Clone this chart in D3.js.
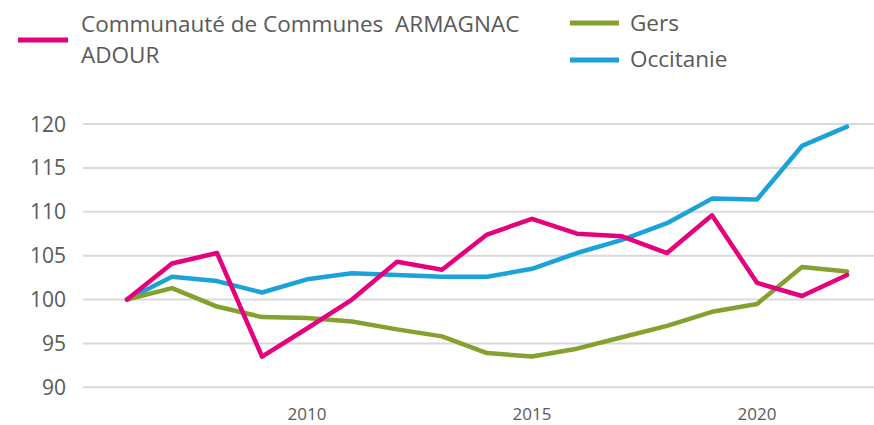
<html>
<head>
<meta charset="utf-8">
<title>Indice d'évolution</title>
<script src="https://d3js.org/d3.v7.min.js"></script>
<style>
body { margin: 0; background: #fff; }
svg { display: block; font-family: 'Open Sans', sans-serif; }
</style>
</head>
<body>
<div id="chart"></div>
<script>
// data (base 100 in 2006)
var years = [2006, 2007, 2008, 2009, 2010, 2011, 2012, 2013, 2014, 2015, 2016, 2017, 2018, 2019, 2020, 2021, 2022];
var ccaa = [100, 104.1, 105.3, 93.5, 96.7, 100.0, 104.3, 103.4, 107.4, 109.2, 107.5, 107.2, 105.3, 109.6, 101.9, 100.4, 102.8];
var gers = [100, 101.3, 99.2, 98.0, 97.9, 97.5, 96.6, 95.8, 93.9, 93.5, 94.4, 95.7, 97.0, 98.6, 99.5, 103.7, 103.2];
var occitanie = [100, 102.6, 102.1, 100.8, 102.3, 103.0, 102.8, 102.6, 102.6, 103.5, 105.3, 106.8, 108.7, 111.5, 111.4, 117.5, 119.7];
var yTicks = [90, 95, 100, 105, 110, 115, 120];
var xTicks = [2010, 2015, 2020];

var series = [
  { name: "Communauté de Communes  ARMAGNAC", name2: "ADOUR", values: ccaa, color: "#e5007d" },
  { name: "Gers", values: gers, color: "#85a02f" },
  { name: "Occitanie", values: occitanie, color: "#1ba3d9" }
];

var W = 874, H = 425;
var svg = d3.select("#chart").append("svg")
  .attr("width", W).attr("height", H);

var x = d3.scaleLinear().domain([2006, 2022]).range([127, 847]);
var y = d3.scaleLinear().domain([90, 120]).range([387.3, 124]);

// gridlines
svg.append("g").selectAll("line")
  .data(yTicks)
  .enter().append("line")
    .attr("x1", 83).attr("x2", W)
    .attr("y1", function(d) { return y(d); })
    .attr("y2", function(d) { return y(d); })
    .attr("stroke", "#d9d9d9")
    .attr("stroke-width", 2);

// y labels
svg.append("g").selectAll("text")
  .data(yTicks)
  .enter().append("text")
    .attr("x", 66)
    .attr("y", function(d) { return y(d); })
    .attr("dy", "0.36em")
    .attr("text-anchor", "end")
    .attr("fill", "#595959")
    .style("font-size", "21px")
    .text(function(d) { return d; });

// x labels
svg.append("g").selectAll("text")
  .data(xTicks)
  .enter().append("text")
    .attr("x", function(d) { return x(d); })
    .attr("y", 420)
    .attr("text-anchor", "middle")
    .attr("fill", "#595959")
    .style("font-size", "17px")
    .text(function(d) { return d; });

var line = d3.line()
  .x(function(d, i) { return x(years[i]); })
  .y(function(d) { return y(d); });

// draw order: blue, green, pink on top
[series[2], series[1], series[0]].forEach(function(s) {
  svg.append("path")
    .datum(s.values)
    .attr("fill", "none")
    .attr("stroke", s.color)
    .attr("stroke-width", 4.5)
    .attr("stroke-linejoin", "round")
    .attr("stroke-linecap", "round")
    .attr("d", line);
});

// legend
var leg = svg.append("g").attr("fill", "#595959").style("font-size", "22.5px");

leg.append("line").attr("x1", 18).attr("x2", 68).attr("y1", 40).attr("y2", 40)
  .attr("stroke", series[0].color).attr("stroke-width", 5);
leg.append("text").attr("x", 81).attr("y", 32).style("white-space", "pre").text(series[0].name);
leg.append("text").attr("x", 81).attr("y", 63).text(series[0].name2);

leg.append("line").attr("x1", 570).attr("x2", 619).attr("y1", 23).attr("y2", 23)
  .attr("stroke", series[1].color).attr("stroke-width", 5);
leg.append("text").attr("x", 630).attr("y", 31).text(series[1].name);

leg.append("line").attr("x1", 570).attr("x2", 619).attr("y1", 60).attr("y2", 60)
  .attr("stroke", series[2].color).attr("stroke-width", 5);
leg.append("text").attr("x", 630).attr("y", 67).text(series[2].name);
</script>
</body>
</html>
